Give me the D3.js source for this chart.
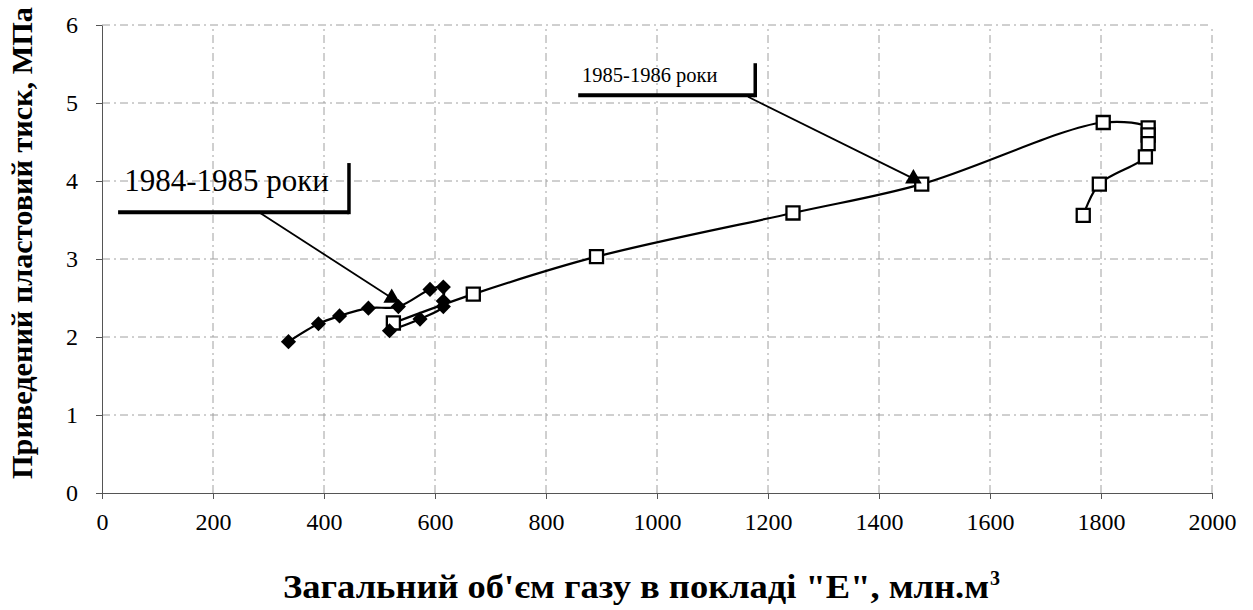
<!DOCTYPE html>
<html><head><meta charset="utf-8">
<script src="https://cdn.jsdelivr.net/npm/d3@7"></script>
<style>html,body{margin:0;padding:0;background:#fff;} svg{display:block;}</style>
</head><body>
<script>
// ---- data ----
const xTicks = [0,200,400,600,800,1000,1200,1400,1600,1800,2000];
const yTicks = [0,1,2,3,4,5,6];
// 1984-1985 (black diamonds)
const diamondX = [336, 390, 428, 480, 534, 591, 615, 615, 615, 573, 518];
const diamondY = [1.94, 2.17, 2.27, 2.37, 2.39, 2.61, 2.64, 2.46, 2.39, 2.23, 2.08];
// 1985-1986 (open squares)
const squareX = [525, 669, 891, 1245, 1477, 1804, 1885, 1885, 1885, 1880, 1797, 1768];
const squareY = [2.18, 2.55, 3.03, 3.59, 3.96, 4.75, 4.68, 4.59, 4.48, 4.31, 3.96, 3.56];
// callout pointer tips (black triangles)
const tipX = [522, 1462];
const tipY = [2.50, 4.03];
const calloutLabels = ["1984-1985 роки", "1985-1986 роки"];
const yTitle = "Приведений пластовий тиск, МПа";
const xTitle = "Загальний об'єм газу в покладі \"Е\", млн.м";

const W = 1253, H = 610;
const svg = d3.select("body").append("svg").attr("width", W).attr("height", H);
const x = d3.scaleLinear().domain([0, 2000]).range([102, 1212]);
const y = d3.scaleLinear().domain([0, 6]).range([493, 25]);
const serif = "'Liberation Serif','Times New Roman',serif";

// gridlines
const grid = svg.append("g");
grid.selectAll(".hg").data(yTicks.slice(1)).join("line")
  .attr("x1", x(0)).attr("x2", x(2000)).attr("y1", d => y(d)).attr("y2", d => y(d))
  .attr("stroke", "#a0a0a0").attr("stroke-width", 1).attr("stroke-dasharray", "8,4,2,4");
grid.selectAll(".vg").data(xTicks.slice(1)).join("line")
  .attr("x1", d => x(d)).attr("x2", d => x(d)).attr("y1", y(0)).attr("y2", y(6))
  .attr("stroke", "#a0a0a0").attr("stroke-width", 1).attr("stroke-dasharray", "8,4,2,4");

// axes
const xAxis = svg.append("g").attr("transform", `translate(0,${y(0)})`)
  .call(d3.axisBottom(x).tickValues(xTicks).tickFormat(d3.format("d")).tickSize(6).tickPadding(14).tickSizeOuter(0));
const yAxis = svg.append("g").attr("transform", `translate(${x(0)},0)`)
  .call(d3.axisLeft(y).tickValues(yTicks).tickFormat(d3.format("d")).tickSize(6).tickPadding(18).tickSizeOuter(0));
[xAxis, yAxis].forEach(a => {
  a.attr("font-size", null).attr("font-family", null);
  a.select(".domain").attr("stroke", "#555");
  a.selectAll(".tick line").attr("stroke", "#555");
  a.selectAll("text").attr("font-family", serif).attr("font-size", 24).attr("fill", "#000");
});

// lines
const line = d3.line().x(d => x(d[0])).y(d => y(d[1])).curve(d3.curveCatmullRom.alpha(0.5));
const dData = diamondX.map((v, i) => [v, diamondY[i]]);
const sData = squareX.map((v, i) => [v, squareY[i]]);
svg.append("path").attr("d", line(sData)).attr("fill", "none").attr("stroke", "#000").attr("stroke-width", 2.2);
svg.append("path").attr("d", line(dData)).attr("fill", "none").attr("stroke", "#000").attr("stroke-width", 2.2);

// callouts
const boxes = [
  {label: calloutLabels[0], x0: 29, x1: 445, yb: 3.60, yt: 4.23, tx: 40, ty: 3.87, fs: 31, lx: 285, ly: 3.59, i: 0},
  {label: calloutLabels[1], x0: 858, x1: 1177, yb: 5.10, yt: 5.51, tx: 865, ty: 5.27, fs: 20.5, lx: 1164, ly: 5.08, i: 1}
];
const cg = svg.append("g");
boxes.forEach(b => {
  cg.append("line").attr("x1", x(b.lx)).attr("y1", y(b.ly)).attr("x2", x(tipX[b.i])).attr("y2", y(tipY[b.i]))
    .attr("stroke", "#000").attr("stroke-width", 1.8);
  cg.append("line").attr("x1", x(b.x0)).attr("x2", x(b.x1)).attr("y1", y(b.yb)).attr("y2", y(b.yb))
    .attr("stroke", "#000").attr("stroke-width", 4);
  cg.append("line").attr("x1", x(b.x1)).attr("x2", x(b.x1)).attr("y1", y(b.yt)).attr("y2", y(b.yb) + 2)
    .attr("stroke", "#000").attr("stroke-width", 3.5);
  cg.append("text").attr("x", x(b.tx)).attr("y", y(b.ty)).text(b.label)
    .attr("font-family", serif).attr("font-size", b.fs).attr("fill", "#000");
});

// markers
svg.append("g").selectAll("path").data(sData).join("path")
  .attr("transform", d => `translate(${x(d[0])},${y(d[1])})`)
  .attr("d", d3.symbol(d3.symbolSquare, 170)())
  .attr("fill", "#fff").attr("stroke", "#000").attr("stroke-width", 2.3);
svg.append("g").selectAll("path").data(dData).join("path")
  .attr("transform", d => `translate(${x(d[0])},${y(d[1])}) rotate(45)`)
  .attr("d", d3.symbol(d3.symbolSquare, 115)())
  .attr("fill", "#000");
svg.append("g").selectAll("path").data(tipX.map((v, i) => [v, tipY[i]])).join("path")
  .attr("transform", d => `translate(${x(d[0])},${y(d[1])})`)
  .attr("d", d3.symbol(d3.symbolTriangle, 120)())
  .attr("fill", "#000");

// titles
svg.append("text").attr("transform", `translate(32,243) rotate(-90)`)
  .attr("text-anchor", "middle").attr("font-family", serif).attr("font-weight", "bold")
  .attr("font-size", 30).attr("textLength", 472).attr("lengthAdjust", "spacingAndGlyphs").text(yTitle);
svg.append("text").attr("x", 283).attr("y", 598)
  .attr("font-family", serif).attr("font-weight", "bold")
  .attr("font-size", 34).attr("textLength", 706).attr("lengthAdjust", "spacingAndGlyphs").text(xTitle);
svg.append("text").attr("x", 990).attr("y", 585)
  .attr("font-family", serif).attr("font-weight", "bold").attr("font-size", 20).text("3");
</script>
</body></html>
